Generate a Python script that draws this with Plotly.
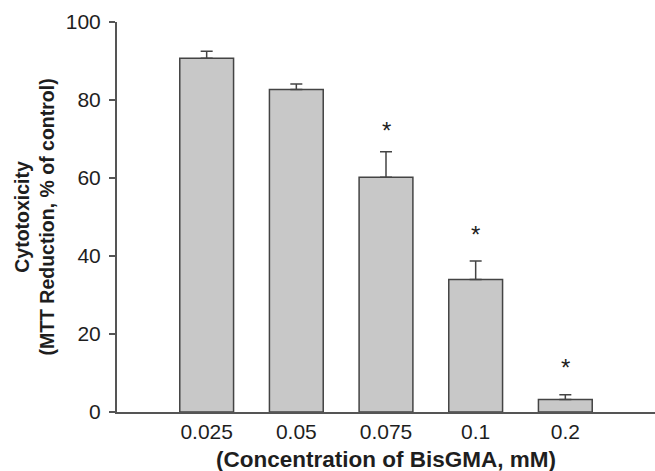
import plotly.graph_objects as go

categories = ["0.025", "0.05", "0.075", "0.1", "0.2"]
values = [90.7, 82.7, 60.2, 34.0, 3.2]
errors = [1.8, 1.4, 6.5, 4.7, 1.2]
significant = [False, False, True, True, True]
star_y = [0, 0, 72.3, 45.6, 11.3]
y_ticks = [0, 20, 40, 60, 80, 100]

FONT = "Liberation Sans, Arial, sans-serif"
AX = "#555555"
TXT = "#1e1e1e"

fig = go.Figure()
fig.add_trace(go.Bar(
    x=list(range(len(categories))), y=values, width=0.6,
    marker=dict(color="#c8c8c8", line=dict(color="#444444", width=1.5)),
    error_y=dict(type="data", array=errors, arrayminus=[0]*len(errors),
                 symmetric=False, color="#444444", thickness=1.5, width=6),
))

for i, s in enumerate(significant):
    if s:
        fig.add_annotation(x=i, y=star_y[i], text="*", showarrow=False,
                           font=dict(family=FONT, size=24, color=TXT),
                           xref="x", yref="y")

fig.add_annotation(xref="paper", yref="paper", x=-0.155, y=0.5,
                   text="<b>Cytotoxicity<br>(MTT Reduction, % of control)</b>",
                   textangle=-90, showarrow=False, align="center",
                   font=dict(family=FONT, size=19.5, color=TXT),
                   xanchor="center", yanchor="middle")

fig.add_annotation(xref="paper", yref="paper", x=0.5, y=-0.123,
                   text="<b>(Concentration of BisGMA, mM)</b>",
                   showarrow=False, xanchor="center", yanchor="middle",
                   font=dict(family=FONT, size=22.5, color=TXT))

fig.update_layout(
    width=655, height=471,
    margin=dict(l=117, r=0, t=22, b=59),
    paper_bgcolor="white", plot_bgcolor="white",
    showlegend=False,
    font=dict(family=FONT, color=TXT),
    xaxis=dict(range=[-1, 5], tickmode="array",
               tickvals=list(range(len(categories))), ticktext=categories,
               showline=True, linecolor=AX, linewidth=2, ticks="",
               showgrid=False, zeroline=False,
               tickfont=dict(family=FONT, size=21, color=TXT)),
    yaxis=dict(range=[0, 100], tickmode="array", tickvals=y_ticks,
               showline=True, linecolor=AX, linewidth=2,
               ticks="outside", ticklen=6, tickwidth=1.5, tickcolor=AX,
               ticklabelstandoff=4,
               showgrid=False, zeroline=False,
               tickfont=dict(family=FONT, size=21, color=TXT)),
)

fig.write_html("out.html", config={"displayModeBar": False},
               post_script="document.body.style.margin='0';document.body.style.overflow='hidden';")
